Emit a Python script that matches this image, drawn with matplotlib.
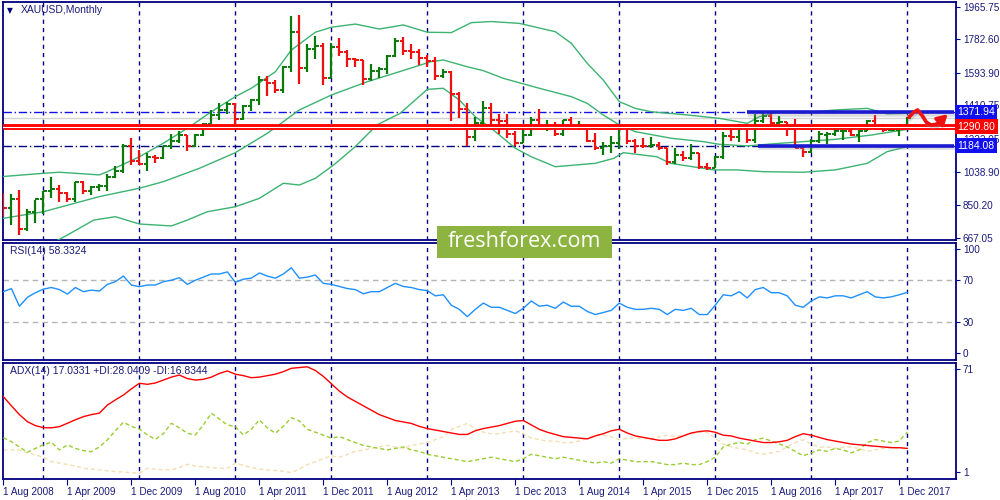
import matplotlib
matplotlib.use("Agg")
import matplotlib.pyplot as plt
import matplotlib.patheffects as pe
from matplotlib.patches import FancyBboxPatch

# ---------------- data (XAUUSD monthly, Aug 2008 .. Jan 2018) ----------------
opens = [914, 833, 884, 718, 814,
         882, 928, 942, 916, 883, 979, 927, 954, 955, 1008, 1040, 1181,
         1096, 1082, 1118, 1113, 1180, 1213, 1244, 1181, 1247, 1307, 1357, 1386,
         1420, 1332, 1409, 1439, 1556, 1536, 1500, 1628, 1826, 1620, 1725, 1746,
         1566, 1738, 1711, 1669, 1664, 1561, 1604, 1615, 1690, 1773, 1719, 1711,
         1676, 1662, 1578, 1597, 1472, 1393, 1234, 1313, 1396, 1327, 1323, 1250,
         1202, 1244, 1326, 1284, 1296, 1250, 1327, 1282, 1287, 1210, 1171, 1183,
         1199, 1283, 1213, 1183, 1182, 1190, 1172, 1095, 1134, 1115, 1142, 1065,
         1061, 1118, 1238, 1234, 1293, 1215, 1321, 1350, 1309, 1315, 1277, 1174,
         1150, 1210, 1247, 1249, 1267, 1268, 1242, 1269, 1321, 1280, 1271, 1275,
         1303]
highs = [919, 912, 934, 830, 881,
         928, 1007, 966, 923, 981, 988, 960, 967, 1025, 1070, 1195, 1227,
         1162, 1141, 1134, 1181, 1249, 1265, 1245, 1250, 1310, 1387, 1424, 1431,
         1424, 1411, 1447, 1576, 1577, 1552, 1632, 1913, 1921, 1755, 1803, 1763,
         1764, 1792, 1720, 1677, 1666, 1642, 1625, 1693, 1790, 1796, 1755, 1726,
         1695, 1683, 1617, 1605, 1487, 1424, 1346, 1434, 1425, 1362, 1361, 1268,
         1280, 1345, 1392, 1331, 1315, 1326, 1345, 1324, 1288, 1255, 1205, 1239,
         1307, 1283, 1220, 1225, 1232, 1205, 1172, 1170, 1157, 1192, 1143, 1088,
         1128, 1263, 1287, 1304, 1303, 1362, 1375, 1367, 1352, 1318, 1337, 1181,
         1220, 1264, 1261, 1295, 1273, 1296, 1274, 1331, 1357, 1306, 1299, 1307,
         1345]
lows = [786, 740, 681, 705, 752,
        801, 890, 865, 865, 868, 915, 905, 931, 930, 1003, 1033, 1075,
        1075, 1044, 1088, 1111, 1163, 1199, 1155, 1178, 1240, 1306, 1330, 1361,
        1308, 1327, 1381, 1415, 1462, 1478, 1478, 1600, 1532, 1600, 1671, 1523,
        1562, 1687, 1627, 1628, 1527, 1546, 1564, 1590, 1685, 1693, 1672, 1636,
        1626, 1555, 1562, 1321, 1338, 1180, 1208, 1271, 1291, 1251, 1228, 1181,
        1202, 1238, 1278, 1268, 1240, 1240, 1281, 1273, 1206, 1161, 1131, 1142,
        1167, 1191, 1142, 1170, 1169, 1162, 1077, 1080, 1098, 1105, 1052, 1046,
        1061, 1108, 1208, 1207, 1199, 1200, 1310, 1302, 1305, 1241, 1171, 1122,
        1145, 1200, 1195, 1241, 1214, 1236, 1205, 1265, 1271, 1261, 1264, 1236,
        1301]
closes = [833, 884, 718, 814, 882,
          928, 942, 916, 883, 979, 927, 954, 955, 1008, 1040, 1181, 1096,
          1082, 1118, 1113, 1180, 1213, 1244, 1181, 1247, 1307, 1357, 1386, 1420,
          1332, 1409, 1439, 1556, 1536, 1500, 1628, 1826, 1620, 1725, 1746, 1566,
          1738, 1711, 1669, 1664, 1561, 1604, 1615, 1690, 1773, 1719, 1711, 1676,
          1662, 1578, 1597, 1472, 1393, 1234, 1313, 1396, 1327, 1323, 1250, 1202,
          1244, 1326, 1284, 1296, 1250, 1327, 1282, 1287, 1210, 1171, 1183, 1199,
          1283, 1213, 1183, 1182, 1190, 1172, 1095, 1134, 1115, 1142, 1065, 1061,
          1118, 1238, 1234, 1293, 1215, 1321, 1350, 1309, 1315, 1277, 1174, 1150,
          1210, 1249, 1249, 1268, 1268, 1242, 1269, 1321, 1280, 1271, 1275, 1303,
          1341]

# Bollinger bands (20): (bar index, value)
bb_up_x = [0, 5, 7, 12, 13, 17, 20, 23, 26, 29, 31, 34, 36, 39, 41, 44, 47, 50, 53, 56,
           58.5, 61, 64.5, 69, 71, 73, 75, 77, 79, 81, 85.5, 89.5, 93, 94.5, 97, 100,
           104, 108, 110.5, 113]
bb_up_y = [1011, 1029, 1035, 1020, 1038, 1122, 1198, 1282, 1375, 1460, 1507, 1600, 1722,
           1822, 1850, 1868, 1840, 1863, 1822, 1820, 1876, 1882, 1872, 1825, 1760, 1647,
           1553, 1432, 1394, 1375, 1357, 1338, 1310, 1347, 1375, 1370, 1385, 1394, 1363,
           1366]
bb_mid_x = [0, 5, 12, 17, 20, 24.5, 29, 33, 37, 41, 45.5, 49.5, 53.5, 55, 58, 60, 62.5,
            67, 71, 73, 75, 77, 79, 83.5, 87.5, 89.5, 93, 96, 100, 104, 108.5, 113]
bb_mid_y = [776, 813, 898, 945, 982, 1057, 1145, 1254, 1385, 1469, 1544, 1600, 1657, 1666,
            1628, 1606, 1563, 1507, 1460, 1422, 1357, 1301, 1263, 1226, 1207, 1192, 1183,
            1194, 1207, 1220, 1244, 1276]
bb_low_x = [6, 7, 8, 11.3, 14, 17, 21, 23, 25.5, 29, 32, 35, 37, 39, 41.3, 44, 46.7, 49.6,
            53, 55, 57, 59, 61, 64, 66, 69, 74, 76.3, 77.5, 81.7, 83.4, 88.8, 91.7, 95,
            100, 104, 108, 110.5, 113]
bb_low_y = [634, 658, 682, 766, 785, 744, 733, 766, 813, 841, 888, 973, 963, 1001, 1076,
            1179, 1301, 1366, 1501, 1507, 1441, 1347, 1282, 1170, 1122, 1066, 1085, 1113,
            1145, 1122, 1085, 1048, 1048, 1038, 1035, 1048, 1085, 1151, 1179]

rsi = [59, 62, 45, 53.5, 58,
       61.5, 63, 61, 56.7, 63, 59, 60.5, 59.6, 66, 68.6, 74, 65.4,
       63.8, 65.4, 65.4, 68.6, 70, 72.4, 66, 70, 73, 76, 76, 78,
       68, 71, 72, 77, 74, 72, 76, 82, 72, 73, 75, 67,
       66, 64, 62, 61, 57, 59, 59, 63, 67, 64, 63, 61,
       60, 55, 56, 46, 42, 35, 42, 48, 44, 44, 41, 38,
       43, 50, 45, 46, 43, 49, 45, 45, 40, 37, 39, 41,
       48, 44, 42, 42, 43, 42, 37, 42, 41, 43, 37, 37,
       46, 56, 55, 59, 53, 61, 63, 58, 58, 55, 46, 44,
       50, 54, 53, 55, 55, 53, 56, 59, 54, 53, 54, 56,
       58.33]
adx = [52.2, 46, 40, 35.2, 32.5,
       31.1, 31, 31.8, 34.1, 36.5, 38.6, 40, 41, 46.5, 50, 53.3, 57.5,
       61.3, 60.6, 61.5, 63.5, 65.5, 66.9, 64.5, 63.5, 64, 65.5, 68, 69.7,
       67.5, 66.5, 65.1, 65.5, 66.5, 67.5, 69.2, 71.5, 72, 72.5, 70, 66,
       61, 56, 52, 49, 46, 43, 40, 38, 36, 35, 34, 32,
       30.5, 29.5, 28.5, 27.5, 26.5, 26.5, 29, 30.5, 31.5, 32.5, 34, 35.5,
       36, 33, 30, 28, 26.5, 25, 24.5, 24, 23.5, 25.5, 27, 29,
       30, 27.5, 25.5, 24.5, 23.5, 22.5, 22.5, 23.5, 25.5, 27.5, 28.5, 29,
       28, 26, 25.5, 24, 23, 22, 21, 21, 21.5, 22.5, 25, 27,
       26, 24.5, 23, 22, 21, 20, 19.5, 19, 18.5, 18, 17.5, 17.5,
       17.03]
plus_di = [24.3, 21.6, 18, 14.4, 17,
           19.4, 21.2, 16, 19.4, 17, 15.5, 14.8, 18, 22.8, 29, 34.8, 32,
           30.2, 26.2, 23.2, 27, 34.1, 31, 27.3, 26.2, 33, 40.9, 37, 33,
           31.8, 26.2, 30, 36.4, 31, 27.3, 32, 37.9, 35.7, 30, 28, 26,
           24, 25, 23, 21, 19, 18, 17, 16, 17, 18, 16, 15,
           13, 12, 11, 10, 9, 8, 9, 10, 11, 10, 9, 8,
           10, 13, 12, 11, 10, 11, 10, 9, 8, 7, 8, 7,
           10, 9, 8, 8, 8, 7, 6, 6, 7, 6, 6, 8,
           11, 18, 20, 21, 20, 23, 24, 22, 20, 18, 15, 12,
           14, 16, 15, 17, 16, 14, 16, 21, 23, 22, 21, 22,
           28.04]
minus_di = [16, 16, 16, 14, 12.6,
            11, 8, 7, 6, 5, 3.5, 3, 2.5, 1.8, 1.2, 1, 0.5,
            0.1, 3.5, 3, 2.4, 2.4, 4, 6.2, 5, 4.5, 4, 3.5, 3.5,
            6.9, 5.5, 4, 3, 2.4, 2, 1.5, 0.5, 3, 6, 8, 10,
            12, 11, 13, 15, 16, 17, 18, 19, 18, 17, 19, 20,
            21, 23, 25, 30, 32, 34, 30, 28, 27, 27, 28, 29,
            27, 24, 23, 22, 22, 21, 21, 22, 24, 26, 26, 25,
            23, 24, 24, 24, 23, 25, 26, 25, 26, 27, 28, 28,
            24, 20, 18, 17, 16, 14, 13, 14, 15, 18, 21, 23,
            20, 18, 18, 17, 18, 18, 17, 15, 16, 17, 18, 17,
            16.83]

price_ticks = [1965.75, 1782.60, 1593.90, 1410.75, 1222.05, 1038.90, 850.20, 667.05]
date_labels = ["1 Aug 2008", "1 Apr 2009", "1 Dec 2009", "1 Aug 2010", "1 Apr 2011",
               "1 Dec 2011", "1 Aug 2012", "1 Apr 2013", "1 Dec 2013", "1 Aug 2014",
               "1 Apr 2015", "1 Dec 2015", "1 Aug 2016", "1 Apr 2017", "1 Dec 2017"]
level_top, level_mid, level_bot = 1371.94, 1290.80, 1184.08
squiggle_x = [113.2, 113.8, 114.3, 114.9, 115.4, 116.0, 116.7, 117.4]
squiggle_y = [1343, 1372, 1385, 1352, 1316, 1300, 1306, 1330]

# ---------------- style ----------------
NAVY = "#000080"
TXT = "#1a1a7a"
UP = "#0b7a0b"
DN = "#f01010"
FONT = "Liberation Sans"
plt.rcParams["font.family"] = [FONT, "DejaVu Sans"]

n = len(closes)
xs = list(range(n))
XL = (-0.05, 119.1)
jan_pos = [i for i in xs if (i + 7) % 12 == 0]      # bar index of January bars
tick_pos = [i * 8 for i in range(len(date_labels))]

fig = plt.figure(figsize=(10, 5), dpi=100)
fig.patch.set_facecolor("white")
ax1 = fig.add_axes([0.003, 0.520, 0.953, 0.476])
ax2 = fig.add_axes([0.003, 0.280, 0.953, 0.234])
ax3 = fig.add_axes([0.003, 0.042, 0.953, 0.232])

for ax in (ax1, ax2, ax3):
    ax.set_xlim(*XL)
    for s in ax.spines.values():
        s.set_color(NAVY)
        s.set_linewidth(1.3)
    ax.tick_params(axis="y", left=False, labelleft=False, right=True, labelright=True,
                   direction="out", length=3, width=0.8, colors=NAVY, labelcolor=TXT,
                   labelsize=7.2, pad=2)
    ax.tick_params(axis="x", bottom=False, labelbottom=False)
    for j in jan_pos:
        ax.axvline(j, color=NAVY, lw=1.0, ls=(0, (3, 3)), zorder=1)

# ---------------- main price panel ----------------
ax1.set_ylim(654, 1992)
ax1.set_yticks(price_ticks)
ax1.set_yticklabels([f"{v:.2f}" for v in price_ticks])

cols = [UP if c >= o else DN for o, c in zip(opens, closes)]
ax1.vlines(xs, lows, highs, colors=cols, lw=1.6, zorder=4)
ax1.hlines(opens, [x - 0.42 for x in xs], xs, colors=cols, lw=1.4, zorder=4)
ax1.hlines(closes, xs, [x + 0.42 for x in xs], colors=cols, lw=1.4, zorder=4)

BBC = "#3cb371"
ax1.plot(bb_up_x, bb_up_y, color=BBC, lw=1.0, zorder=3)
ax1.plot(bb_mid_x, bb_mid_y, color=BBC, lw=1.0, zorder=3)
ax1.plot(bb_low_x, bb_low_y, color=BBC, lw=1.0, zorder=3)

# bid line
ax1.axhline(closes[-1], color="#d3d3d3", lw=1.0, zorder=2)
# dashed levels
ax1.axhline(level_top, color="#1010ee", lw=1.0, ls=(0, (6, 2, 1, 2)), zorder=2)
ax1.axhline(level_bot, color=NAVY, lw=1.0, ls=(0, (6, 2, 1, 2)), zorder=2)
# red double line
ax1.axhline(level_mid, color="#ff0000", lw=4.2, zorder=5)
ax1.axhline(level_mid, color="white", lw=0.8, zorder=5)
# thick blue channel lines
shadow = [pe.SimpleLineShadow(offset=(0.8, -1.6), shadow_color="#909090", alpha=0.3), pe.Normal()]
ax1.plot([93.0, 118.8], [level_top, level_top], color="#1a1ad0", lw=2.6, zorder=6,
         solid_capstyle="butt", path_effects=shadow)
ax1.plot([94.3, 118.8], [level_bot, level_bot], color="#1a1ad0", lw=2.6, zorder=6,
         solid_capstyle="butt", path_effects=shadow)
# red hand-drawn arrow
ax1.plot(squiggle_x, squiggle_y, color="#ee1111", lw=2.6, zorder=7,
         solid_capstyle="round", solid_joinstyle="round", path_effects=shadow)
ax1.annotate("", xy=(118.3, 1372), xytext=(117.2, 1325),
             arrowprops=dict(arrowstyle="-|>,head_length=0.6,head_width=0.35",
                             color="#ee1111", lw=2.4), zorder=7)

ax1.text(0.004, 0.965, "\u25BC", transform=ax1.transAxes, fontsize=5.5, color=NAVY,
         va="center", ha="left", family="DejaVu Sans")
ax1.text(0.019, 0.965, "XAUUSD,Monthly", transform=ax1.transAxes, fontsize=7.5,
         color=TXT, va="center", ha="left")

box_kw = dict(boxstyle="square,pad=0.22", ec="none")
for val, fc in ((level_top, "#1010f0"), (level_mid, "#ff0000"), (level_bot, "#1010f0")):
    ax1.text(1.0015, val, f"{val:.2f}", transform=ax1.get_yaxis_transform(),
             ha="left", va="center", fontsize=7.5, color="white",
             bbox=dict(fc=fc, **box_kw), zorder=10, clip_on=False)

# ---------------- RSI panel ----------------
ax2.set_ylim(-6.7, 105.8)
ax2.set_yticks([100, 70, 30, 0])
ax2.set_yticklabels(["100", "70", "30", "0"])
ax2.axhline(70, color="#b4b4b4", lw=1.0, ls=(0, (4, 3)), zorder=2)
ax2.axhline(30, color="#b4b4b4", lw=1.0, ls=(0, (4, 3)), zorder=2)
ax2.plot(xs, rsi, color="#1e90ff", lw=1.0, zorder=3)
ax2.text(0.007, 0.93, "RSI(14) 58.3324", transform=ax2.transAxes, fontsize=7.5,
         color=TXT, va="center", ha="left")

# ---------------- ADX panel ----------------
ax3.set_ylim(-3.8, 75.1)
ax3.set_yticks([71, 1])
ax3.set_yticklabels(["71", "1"])
ax3.plot(xs, minus_di, color="#f5deb3", lw=1.0, ls=(0, (3, 2)), zorder=2)
ax3.plot(xs, plus_di, color="#9acd32", lw=1.0, ls=(0, (3, 2)), zorder=3)
ax3.plot(xs, adx, color="#ff0000", lw=1.0, zorder=4)
ax3.text(0.007, 0.93, "ADX(14) 17.0331 +DI:28.0409 -DI:16.8344", transform=ax3.transAxes,
         fontsize=7.5, color=TXT, va="center", ha="left")
ax3.set_xticks(tick_pos)
ax3.set_xticklabels(date_labels, ha="left")
ax3.tick_params(axis="x", bottom=True, labelbottom=True, direction="out", length=4,
                width=0.8, colors=NAVY, labelcolor=TXT, labelsize=7.2, pad=2)

# ---------------- watermark logo ----------------
fig.patches.append(FancyBboxPatch((0.437, 0.485), 0.175, 0.063,
                                  boxstyle="square,pad=0", transform=fig.transFigure,
                                  fc="#8db440", ec="none", zorder=20))
fig.text(0.5245, 0.5165, "freshforex.com", ha="center", va="center", color="white",
         fontsize=15.5, family=["Open Sans", "DejaVu Sans"], zorder=21)

fig.savefig("out.png", dpi=100, facecolor="white")
